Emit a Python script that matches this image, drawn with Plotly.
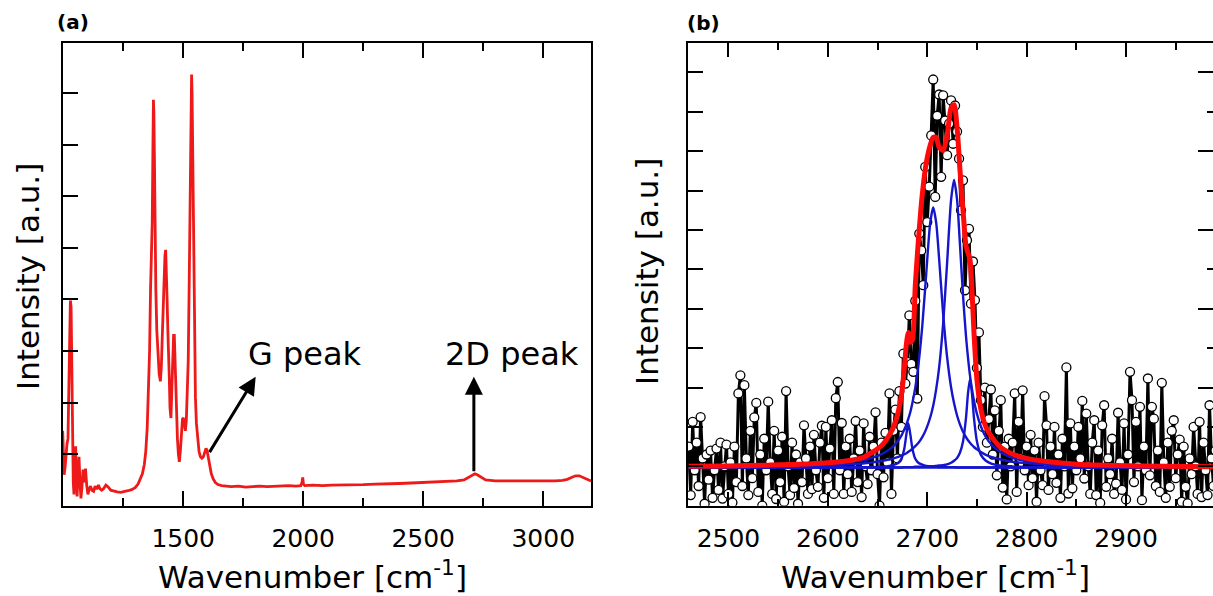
import plotly.graph_objects as go

FONT = "DejaVu Sans"
W, H = 1213, 596

# ---------------- Panel (a): full Raman spectrum ----------------
spec_wavenumber = [998, 1001, 1004, 1008, 1012, 1016, 1020, 1024, 1027, 1030, 1033, 1036, 1039, 1042, 1045,
                   1049, 1052, 1055, 1058, 1062, 1066, 1070, 1074, 1078, 1083, 1088, 1093, 1098, 1103, 1108,
                   1114, 1120, 1127, 1133, 1140, 1147, 1153, 1160, 1168, 1178, 1188, 1198, 1210, 1225, 1240,
                   1255, 1270, 1285, 1300, 1312, 1322, 1330, 1338, 1344, 1350, 1355, 1360, 1364, 1368, 1371,
                   1374, 1376, 1378, 1380, 1383, 1386, 1390, 1395, 1400, 1405, 1409, 1413, 1417, 1421, 1424,
                   1427, 1430, 1433, 1436, 1439, 1442, 1445, 1449, 1453, 1457, 1460, 1463, 1466, 1469, 1472,
                   1476, 1480, 1484, 1488, 1493, 1497, 1501, 1505, 1509, 1513, 1517, 1521, 1525, 1528, 1531,
                   1533, 1535, 1537, 1539, 1542, 1545, 1548, 1551, 1555, 1560, 1566, 1572, 1578, 1584, 1590,
                   1595, 1599, 1604, 1610, 1617, 1625, 1634, 1645, 1660, 1680, 1700, 1730, 1760, 1790, 1820,
                   1850, 1880, 1910, 1940, 1970, 1990, 1995, 1998, 2001, 2006, 2040, 2080, 2120, 2160, 2200,
                   2250, 2300, 2350, 2400, 2450, 2500, 2550, 2600, 2640, 2670, 2690, 2705, 2715, 2725, 2740,
                   2760, 2800, 2850, 2900, 2950, 3000, 3050, 3080, 3100, 3120, 3135, 3150, 3165, 3180, 3199]
spec_intensity = [1.45, 1.1, 0.6, 0.75, 1.1, 1.2, 1.3, 2.3, 3.6, 3.98, 3.85, 2.6, 1.4, 0.45, 0.22,
                  0.85, 1.15, 0.55, 0.18, 0.6, 0.95, 0.45, 0.14, 0.35, 0.7, 0.45, 0.72, 0.4, 0.22, 0.32,
                  0.38, 0.3, 0.28, 0.38, 0.32, 0.4, 0.33, 0.3, 0.33, 0.4, 0.36, 0.3, 0.28, 0.27, 0.26,
                  0.27, 0.29, 0.31, 0.35, 0.42, 0.52, 0.62, 0.8, 1.05, 1.5, 2.1, 3.0, 4.2, 5.0, 5.5,
                  7.0, 7.87, 7.6, 6.8, 5.2, 4.2, 3.4, 2.8, 2.55, 2.41, 2.7, 3.3, 4.0, 4.5, 4.85,
                  4.96, 4.6, 4.0, 3.4, 3.05, 2.5, 1.9, 1.7, 2.3, 2.95, 3.3, 3.3, 2.8, 2.3, 1.7,
                  1.3, 1.0, 0.85, 1.05, 1.5, 1.68, 1.7, 1.55, 1.45, 1.65, 2.1, 2.8, 4.3, 5.5, 7.0,
                  7.9, 8.36, 8.0, 7.2, 5.5, 4.0, 2.8, 2.1, 1.6, 1.3, 1.05, 0.95, 0.92, 0.95, 1.07,
                  1.11, 1.08, 0.95, 0.78, 0.62, 0.52, 0.45, 0.41, 0.39, 0.38, 0.37, 0.38, 0.36, 0.37, 0.38,
                  0.37, 0.38, 0.38, 0.39, 0.38, 0.39, 0.45, 0.55, 0.42, 0.39, 0.4, 0.39, 0.4, 0.4, 0.41,
                  0.41, 0.42, 0.42, 0.43, 0.44, 0.45, 0.45, 0.47, 0.48, 0.5, 0.55, 0.6, 0.62, 0.6, 0.55,
                  0.5, 0.48, 0.48, 0.47, 0.47, 0.47, 0.48, 0.49, 0.51, 0.55, 0.58, 0.58, 0.55, 0.52, 0.48]

# ---------------- Panel (b): 2D band, measured points (2 cm-1 steps from 2460) ----------------
band_start, band_step = 2460, 2
band_intensity = [
    1.5, 0.27, 2.13, 0.9, 1.6, 0.5, 2.25, 1.2, 0.05, 1.3,
    0.66, 1.4, 0.2, 0.9, 1.45, 0.4, 1.6, 0.18, 1.0, 1.55,
    0.3, 1.1, 0.08, 1.5, 0.6, 2.85, 3.31, 0.5, 3.06, 1.2,
    0.27, 1.9, 0.7, 2.24, 2.61, 0.35, 1.3, 0.0, 1.7, 0.9,
    2.64, 1.1, 0.3, 1.9, 0.17, 1.4, 0.6, 1.75, 0.1, 2.91,
    1.0, 0.27, 1.6, 0.45, 1.3, 0.05, 1.1, 0.6, 2.04, 1.2,
    0.3, 1.5, 0.42, 1.8, 0.9, 0.48, 1.6, 2.03, 0.2, 2.0,
    0.7, 1.45, 2.17, 0.3, 2.73, 3.14, 0.9, 2.1, 0.3, 1.5,
    0.8, 1.7, 0.35, 1.2, 2.15, 0.6, 1.4, 0.22, 2.09, 1.0,
    0.55, 1.75, 0.9, 1.5, 2.37, 0.8, 0.0, 1.6, 0.72, 1.85,
    1.1, 2.85, 0.3, 1.9, 2.44, 1.2, 2.91, 2.0, 3.86, 3.1,
    3.65, 4.83, 3.6, 3.4, 5.2, 2.72, 6.91, 6.48, 5.6, 8.6,
    7.2, 8.1, 9.4, 10.82, 7.84, 9.9, 10.44, 8.35, 10.42, 9.78,
    8.9, 9.7, 10.29, 9.19, 10.16, 9.5, 8.81, 7.5, 8.26, 5.47,
    6.74, 7.03, 5.13, 6.2, 5.22, 3.5, 4.4, 2.68, 2.0, 3.0,
    1.6, 2.2, 2.95, 1.3, 2.42, 0.77, 1.9, 2.68, 0.46, 1.5,
    0.16, 1.7, 1.0, 1.6, 2.85, 0.35, 2.13, 1.2, 2.93, 0.9,
    1.5, 0.52, 1.8, 0.7, 1.4, 0.1, 1.6, 0.9, 0.52, 2.78,
    2.04, 0.4, 1.5, 0.8, 2.0, 0.58, 1.3, 0.2, 1.7, 1.0,
    3.51, 0.31, 2.09, 0.44, 1.5, 0.9, 2.0, 1.2, 2.66, 0.69,
    2.34, 1.0, 0.3, 1.6, 2.17, 0.27, 1.4, 0.07, 2.04, 2.55,
    0.48, 1.2, 0.8, 1.7, 0.3, 0.56, 2.36, 1.1, 0.4, 2.09,
    0.16, 1.3, 3.4, 2.68, 0.6, 2.13, 1.0, 2.51, 0.14, 1.5,
    0.9, 3.23, 0.77, 2.51, 2.21, 0.5, 1.4, 0.35, 3.12, 1.1,
    0.2, 1.6, 0.48, 1.9, 2.17, 0.7, 1.3, 1.68, 0.1, 1.5,
    0.48, 0.06, 1.2, 0.8, 2.0, 1.0, 0.3, 2.13, 0.22, 1.6,
    0.9, 0.27, 2.55, 1.2, 0.5, 1.4]
band_wavenumber = [band_start + band_step * i for i in range(len(band_intensity))]

# ---------------- Panel (b): fitted curves ----------------
fit_wavenumber = [2460, 2500, 2540, 2570, 2600, 2620, 2635, 2645, 2655, 2662,
                  2667, 2671, 2674, 2677, 2679, 2681, 2683, 2685, 2688, 2691,
                  2695, 2699, 2703, 2706, 2709, 2712, 2716, 2720, 2724, 2727,
                  2730, 2733, 2736, 2739, 2741, 2743, 2745, 2747, 2750, 2754,
                  2759, 2765, 2773, 2785, 2800, 2820, 2850, 2890, 2940, 2990]
fit_peak_2681 = [0.97, 0.97, 0.97, 0.97, 0.97, 0.97, 0.98, 0.98, 0.99, 1.01,
                 1.04, 1.09, 1.19, 1.46, 1.81, 2.09, 1.81, 1.46, 1.19, 1.09,
                 1.04, 1.01, 1.0, 0.99, 0.99, 0.98, 0.98, 0.98, 0.98, 0.98,
                 0.97, 0.97, 0.97, 0.97, 0.97, 0.97, 0.97, 0.97, 0.97, 0.97,
                 0.97, 0.97, 0.97, 0.97, 0.97, 0.97, 0.97, 0.97, 0.97, 0.97]
fit_peak_2706 = [0.99, 0.99, 1.0, 1.02, 1.05, 1.10, 1.15, 1.22, 1.32, 1.43,
                 1.54, 1.66, 1.78, 1.94, 2.06, 2.21, 2.38, 2.60, 3.0, 3.55,
                 4.56, 5.90, 7.18, 7.57, 7.18, 6.25, 4.87, 3.77, 3.0, 2.60,
                 2.29, 2.06, 1.88, 1.74, 1.66, 1.60, 1.54, 1.49, 1.43, 1.36,
                 1.29, 1.23, 1.18, 1.12, 1.08, 1.04, 1.02, 1.0, 0.99, 0.98]
fit_peak_2727 = [0.98, 0.99, 0.99, 1.01, 1.02, 1.05, 1.07, 1.10, 1.14, 1.17,
                 1.21, 1.24, 1.27, 1.31, 1.33, 1.37, 1.40, 1.44, 1.51, 1.59,
                 1.74, 1.95, 2.24, 2.54, 2.96, 3.52, 4.62, 6.17, 7.77, 8.27,
                 7.77, 6.60, 5.34, 4.30, 3.76, 3.31, 2.96, 2.67, 2.33, 2.01,
                 1.74, 1.54, 1.37, 1.22, 1.13, 1.07, 1.03, 1.0, 0.99, 0.98]
fit_peak_2743 = [0.97, 0.97, 0.97, 0.97, 0.97, 0.97, 0.97, 0.97, 0.97, 0.97,
                 0.97, 0.97, 0.97, 0.98, 0.98, 0.98, 0.98, 0.98, 0.99, 0.99,
                 0.99, 0.99, 1.0, 1.0, 1.01, 1.02, 1.03, 1.05, 1.09, 1.14,
                 1.21, 1.35, 1.63, 2.23, 2.85, 3.22, 2.85, 2.23, 1.63, 1.29,
                 1.14, 1.06, 1.02, 1.0, 0.98, 0.98, 0.97, 0.97, 0.97, 0.97]
fit_total = [1.00, 1.01, 1.03, 1.05, 1.09, 1.14, 1.22, 1.36, 1.55, 1.8,
             2.05, 2.4, 2.8, 3.5, 4.1, 4.4, 4.15, 4.2, 5.6, 6.7,
             7.9, 8.7, 9.15, 9.35, 9.35, 9.1, 9.02, 9.4, 10.1, 10.18,
             9.6, 8.5, 7.5, 6.6, 6.42, 6.25, 5.5, 4.4, 3.2, 2.45,
             2.0, 1.74, 1.5, 1.32, 1.2, 1.12, 1.05, 1.02, 1.0, 0.99]
fit_baseline = 0.97

# ---------------- Ticks and annotation anchors ----------------
xa_ticks = [1500, 2000, 2500, 3000]
xa_minor = [1250, 1750, 2250, 2750]
ya_ticks = [1, 2, 3, 4, 5, 6, 7, 8]
xb_ticks = [2500, 2600, 2700, 2800, 2900]
xb_minor = [2550, 2650, 2750, 2850, 2950]
yb_ticks = [1, 2, 3, 4, 5, 6, 7, 8, 9, 10, 11]
yb_right_major = [1, 3, 5, 7, 9, 11]
yb_right_minor = [2, 4, 6, 8, 10]

g_arrow = dict(tail=(1606, 1.01), head=(1802, 2.5), label=(2008, 2.94))
d_arrow = dict(tail=(2711, 0.64), head=(2711, 2.5), label=(2870, 2.94))

RED_A = "#ee1a1a"
RED_B = "#ff0a0a"
BLUE = "#1515cc"

fig = go.Figure()

fig.add_trace(go.Scatter(x=spec_wavenumber, y=spec_intensity, mode="lines",
                         line=dict(color=RED_A, width=2.8), xaxis="x", yaxis="y",
                         showlegend=False, hoverinfo="skip"))

fig.add_trace(go.Scatter(x=band_wavenumber, y=band_intensity, mode="lines+markers",
                         line=dict(color="black", width=3),
                         marker=dict(symbol="circle", size=9, color="white",
                                     line=dict(color="black", width=1.3)),
                         xaxis="x2", yaxis="y2", showlegend=False, hoverinfo="skip"))

fig.add_trace(go.Scatter(x=[band_wavenumber[0], band_wavenumber[-1]], y=[fit_baseline, fit_baseline],
                         mode="lines", line=dict(color=BLUE, width=2.4),
                         xaxis="x2", yaxis="y2", showlegend=False, hoverinfo="skip"))
for comp in [fit_peak_2681, fit_peak_2706, fit_peak_2727, fit_peak_2743]:
    fig.add_trace(go.Scatter(x=fit_wavenumber, y=comp, mode="lines",
                             line=dict(color=BLUE, width=2.4, shape="spline", smoothing=0.7),
                             xaxis="x2", yaxis="y2", showlegend=False, hoverinfo="skip"))
fig.add_trace(go.Scatter(x=fit_wavenumber, y=fit_total, mode="lines",
                         line=dict(color=RED_B, width=5, shape="spline", smoothing=0.7),
                         xaxis="x2", yaxis="y2", showlegend=False, hoverinfo="skip"))
# carrier trace for the right-hand tick axis of panel (b)
fig.add_trace(go.Scatter(x=[fit_wavenumber[0]], y=[fit_baseline], mode="markers",
                         marker=dict(opacity=0), xaxis="x2", yaxis="y3",
                         showlegend=False, hoverinfo="skip"))

ydom = [(H - 505.7) / H, (H - 42.5) / H]
tickfont = dict(family=FONT, size=25, color="black")
common = dict(showgrid=False, zeroline=False, linecolor="black", linewidth=2,
              ticks="inside", tickcolor="black", tickwidth=2, tickfont=tickfont)

fig.update_layout(
    width=W, height=H,
    margin=dict(l=0, r=0, t=0, b=0, pad=0),
    paper_bgcolor="white", plot_bgcolor="white",
    showlegend=False,
    xaxis=dict(domain=[62.7 / W, 591 / W], range=[998, 3199], anchor="y",
               tickvals=xa_ticks, ticklen=15, showline=True, mirror="ticks",
               ticklabelstandoff=9,
               minor=dict(tickvals=xa_minor, ticklen=8, ticks="inside",
                          tickcolor="black", tickwidth=2), **common),
    yaxis=dict(domain=ydom, range=[0, 8.98], anchor="x", tickvals=ya_ticks,
               ticklen=15, showticklabels=False, showline=True, mirror=True, **common),
    xaxis2=dict(domain=[687.7 / W, 1.0], range=[2459, 2987.5], anchor="y2",
                tickvals=xb_ticks, ticklen=14, showline=True, mirror="ticks",
                ticklabelstandoff=9,
                minor=dict(tickvals=xb_minor, ticklen=7, ticks="inside",
                           tickcolor="black", tickwidth=2), **common),
    yaxis2=dict(domain=ydom, range=[0, 11.76], anchor="x2", tickvals=yb_ticks,
                ticklen=15, showticklabels=False, showline=True, mirror=False, **common),
    yaxis3=dict(overlaying="y2", side="right", anchor="x2", range=[0, 11.76],
                tickvals=yb_right_major, ticklen=15, showticklabels=False,
                showline=False, showgrid=False, zeroline=False,
                ticks="inside", tickcolor="black", tickwidth=2,
                minor=dict(tickvals=yb_right_minor, ticklen=6, ticks="inside",
                           tickcolor="black", tickwidth=2)),
)

title_font = dict(family=FONT, size=31, color="black")
ann = []
center = dict(xanchor="center", yanchor="middle", showarrow=False)
# panel letters
ann.append(dict(text="<b>(a)</b>", x=73 / W, y=1 - 22 / H, xref="paper", yref="paper",
                font=dict(family=FONT, size=20, color="black"), **center))
ann.append(dict(text="<b>(b)</b>", x=703 / W, y=1 - 23 / H, xref="paper", yref="paper",
                font=dict(family=FONT, size=20, color="black"), **center))
# axis titles
for cx in (312, 935):
    ann.append(dict(text="Wavenumber [cm<sup>-1</sup>]", x=cx / W, y=1 - 575 / H,
                    xref="paper", yref="paper", font=title_font, **center))
for cx, cy in ((28, 277), (647, 272)):
    ann.append(dict(text="Intensity [a.u.]", x=cx / W, y=1 - cy / H, textangle=-90,
                    xref="paper", yref="paper", font=title_font, **center))
# peak labels and arrows
for a, txt in ((g_arrow, "G peak"), (d_arrow, "2D peak")):
    ann.append(dict(text=txt, x=a["label"][0], y=a["label"][1], xref="x", yref="y",
                    font=dict(family=FONT, size=32, color="black"), **center))
    ann.append(dict(text="", x=a["head"][0], y=a["head"][1], ax=a["tail"][0], ay=a["tail"][1],
                    xref="x", yref="y", axref="x", ayref="y", showarrow=True,
                    arrowhead=2, arrowsize=1.2, arrowwidth=3, arrowcolor="black", standoff=0))
fig.update_layout(annotations=ann)

fig.write_html("out.html", config={"displayModeBar": False, "staticPlot": True},
               post_script="document.body.style.margin='0';document.body.style.padding='0';"
                           "document.documentElement.style.overflow='hidden';")
